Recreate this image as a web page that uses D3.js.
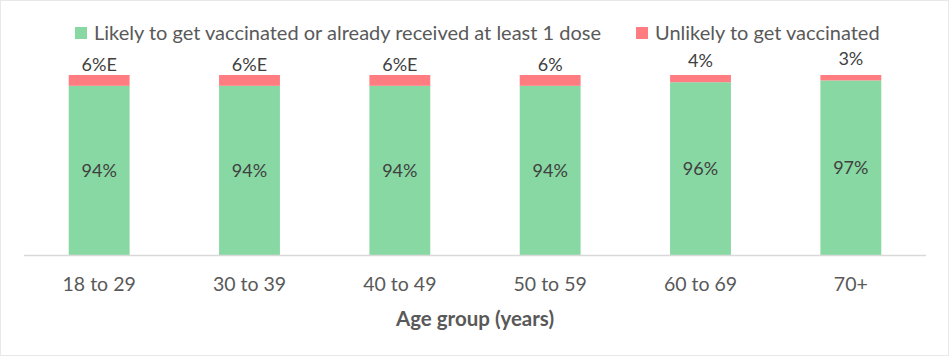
<!DOCTYPE html>
<html><head><meta charset="utf-8">
<script src="https://cdn.jsdelivr.net/npm/d3@7"></script>
<style>
html,body{margin:0;padding:0;background:#fff;}
svg{display:block;font-family:Lato,"Open Sans",sans-serif;}
</style></head>
<body><svg id="chart" width="950" height="357"></svg>
<script>
const categories = ["18 to 29","30 to 39","40 to 49","50 to 59","60 to 69","70+"];
const likely = [94,94,94,94,96,97];
const unlikely = [6,6,6,6,4,3];
const unlikelyLabels = ["6%E","6%E","6%E","6%","4%","3%"];
const seriesNames = ["Likely to get vaccinated or already received at least 1 dose","Unlikely to get vaccinated"];
const colors = ["#88d8a3","#ff7c80"];

const svg = d3.select("#chart");
svg.append("rect").attr("x",0.5).attr("y",0.5).attr("width",948).attr("height",355)
  .attr("fill","#fff").attr("stroke","#d0d0d0").attr("stroke-dasharray","1,1");

const x = d3.scaleBand().domain(categories).range([24,926]).paddingInner(0.595).paddingOuter(0.2975);
const y = d3.scaleLinear().domain([0,100]).range([255.5,75]);

// bars
const g = svg.append("g");
categories.forEach((c,i)=>{
  g.append("rect").attr("x",x(c)).attr("width",x.bandwidth())
    .attr("y",y(likely[i])).attr("height",y(0)-y(likely[i])).attr("fill",colors[0]);
  g.append("rect").attr("x",x(c)).attr("width",x.bandwidth())
    .attr("y",y(likely[i]+unlikely[i])).attr("height",y(likely[i])-y(likely[i]+unlikely[i])).attr("fill",colors[1]);
  g.append("text").attr("x",x(c)+x.bandwidth()/2).attr("y",(y(likely[i])+y(0))/2).attr("dy","0.35em")
    .attr("text-anchor","middle").attr("font-size",18).attr("fill","#404040").text(likely[i]+"%");
  g.append("text").attr("x",x(c)+x.bandwidth()/2).attr("y",y(likely[i])-15)
    .attr("text-anchor","middle").attr("font-size",18).attr("fill","#404040").text(unlikelyLabels[i]);
});

// axis
const ax = svg.append("g").attr("transform","translate(0,255.5)")
  .call(d3.axisBottom(x).tickSize(0).tickPadding(0));
ax.select(".domain").attr("stroke","#d9d9d9").attr("stroke-width",1.5).attr("d","M24,0H926");
ax.selectAll("text").attr("font-family","Lato,'Open Sans',sans-serif").attr("font-size",19.5).attr("fill","#595959")
  .attr("y",35.5).attr("dy",null);

svg.append("text").attr("x",475).attr("y",326).attr("text-anchor","middle")
  .attr("font-size",20.5).attr("font-weight","bold").attr("fill","#595959").text("Age group (years)");

// legend
const legX = [75,636];
seriesNames.forEach((s,i)=>{
  svg.append("rect").attr("x",legX[i]).attr("y",27).attr("width",12).attr("height",12).attr("fill",colors[i]);
  svg.append("text").attr("x",legX[i]+19).attr("y",40).attr("font-size",20).attr("fill","#595959").text(s);
});
</script></body></html>
